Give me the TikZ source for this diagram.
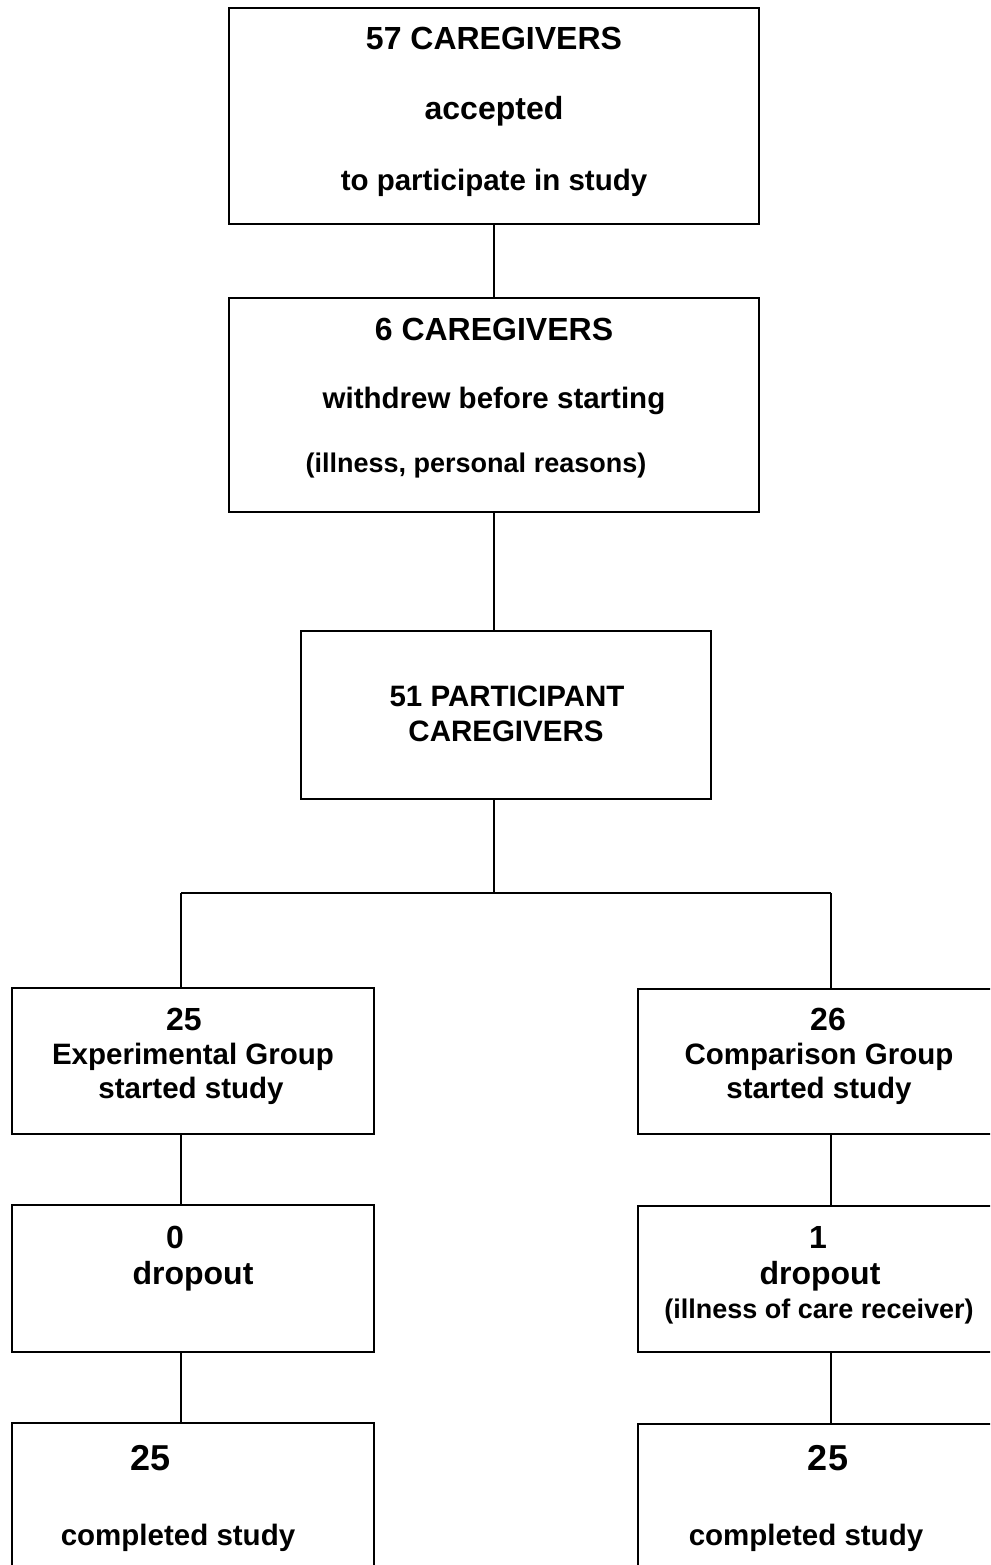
\documentclass[tikz,border=0pt]{standalone}
\usepackage{fontspec}
\setmainfont{Liberation Sans}
\begin{document}
\begin{tikzpicture}[x=1pt,y=-1pt,
  box/.style={draw, line width=1.7pt, rectangle, inner sep=0pt, outer sep=0pt},
  conn/.style={line width=1.3pt},
  txt/.style={anchor=base, inner sep=0pt, font=\fontsize{29.5}{35}\selectfont\bfseries},
  lgtxt/.style={anchor=base, inner sep=0pt, font=\fontsize{32}{38}\selectfont\bfseries},
  smalltxt/.style={anchor=base, inner sep=0pt, font=\fontsize{27}{32}\selectfont\bfseries},
  bigtxt/.style={anchor=base, inner sep=0pt, font=\fontsize{36}{42}\selectfont\bfseries}]
\useasboundingbox (0,0) rectangle (990,1565);
\clip (0,0) rectangle (990,1565);
% boxes
\node[box, minimum width=530pt, minimum height=216pt] (b1) at (494,116) {};
\node[box, minimum width=530pt, minimum height=214pt] (b2) at (494,405) {};
\node[box, minimum width=410pt, minimum height=168pt] (b3) at (506,715) {};
\node[box, minimum width=362pt, minimum height=146pt] (b4l) at (193,1061) {};
\node[box, minimum width=370pt, minimum height=145pt] (b4r) at (823,1061.5) {};
\node[box, minimum width=362pt, minimum height=147pt] (b5l) at (193,1278.5) {};
\node[box, minimum width=370pt, minimum height=146pt] (b5r) at (823,1279) {};
\node[box, minimum width=362pt, minimum height=177pt] (b6l) at (193,1511.5) {};
\node[box, minimum width=370pt, minimum height=176pt] (b6r) at (823,1512) {};
% texts
\node[lgtxt] (t1a) at (494,50) {57 CAREGIVERS};
\node[lgtxt] (t1b) at (494,120) {accepted};
\node[txt] (t1c) at (494,191) {to participate in study};
\node[lgtxt] (t2a) at (494,340) {6 CAREGIVERS};
\node[txt] (t2b) at (494,408) {withdrew before starting};
\node[smalltxt] (t2c) at (476,472) {(illness, personal reasons)};
\node[txt] (t3a) at (507,706) {51 PARTICIPANT};
\node[txt] (t3b) at (506,741) {CAREGIVERS};
\node[lgtxt] (t4la) at (184,1030) {25};
\node[txt] (t4lb) at (193,1064) {Experimental Group};
\node[txt] (t4lc) at (191,1098) {started study};
\node[lgtxt] (t4ra) at (828,1030) {26};
\node[txt] (t4rb) at (819,1064) {Comparison Group};
\node[txt] (t4rc) at (819,1098) {started study};
\node[lgtxt] (t5la) at (175,1248) {0};
\node[lgtxt] (t5lb) at (193,1284) {dropout};
\node[lgtxt] (t5ra) at (818,1248) {1};
\node[lgtxt] (t5rb) at (820,1284) {dropout};
\node[smalltxt] (t5rc) at (819,1318) {(illness of care receiver)};
\node[bigtxt] (t6la) at (151,1470) {25};
\node[txt] (t6lb) at (178,1545) {completed study};
\node[bigtxt] (t6ra) at (828,1470) {25};
\node[txt] (t6rb) at (806,1545) {completed study};
% connectors
\coordinate (m) at (494,893);
\coordinate (jl) at (181,893);
\coordinate (jr) at (831,893);
\draw[conn] (b1.south) -- (b2.north);
\draw[conn] (b2.south) -- (b2.south |- b3.north);
\draw[conn] (m |- b3.south) -- (m);
\draw[conn] (jl) -- (jr);
\draw[conn] (jl) -- (jl |- b4l.north);
\draw[conn] (jr) -- (jr |- b4r.north);
\draw[conn] (jl |- b4l.south) -- (jl |- b5l.north);
\draw[conn] (jr |- b4r.south) -- (jr |- b5r.north);
\draw[conn] (jl |- b5l.south) -- (jl |- b6l.north);
\draw[conn] (jr |- b5r.south) -- (jr |- b6r.north);
\end{tikzpicture}
\end{document}
